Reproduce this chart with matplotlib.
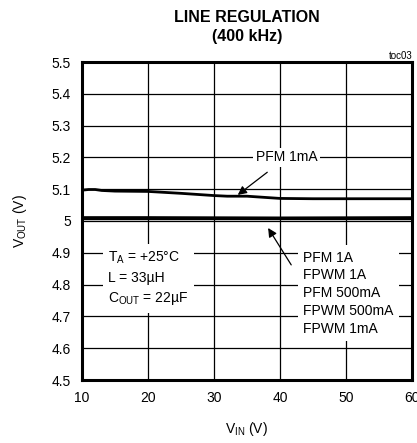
import numpy as np
import matplotlib
matplotlib.use("Agg")
import matplotlib.pyplot as plt

plt.rcParams['font.family'] = ['Liberation Sans', 'DejaVu Sans']
plt.rcParams['mathtext.fontset'] = 'custom'
plt.rcParams['mathtext.rm'] = 'Liberation Sans'

# data
vin = [10, 11, 12, 13, 15, 20, 25, 30, 32, 35, 40, 45, 50, 55, 60]
pfm_1ma = [5.097, 5.099, 5.099, 5.096, 5.094, 5.093, 5.087, 5.080, 5.078, 5.078,
           5.071, 5.070, 5.070, 5.070, 5.070]
vin_flat = [10, 20, 30, 40, 50, 60]
pfm_1a = [5.007, 5.007, 5.007, 5.007, 5.007, 5.007]
fpwm_1a = [5.008, 5.008, 5.008, 5.008, 5.008, 5.008]
pfm_500ma = [5.009, 5.009, 5.008, 5.008, 5.008, 5.009]
fpwm_500ma = [5.010, 5.010, 5.010, 5.009, 5.010, 5.010]
fpwm_1ma = [5.011, 5.011, 5.010, 5.010, 5.010, 5.011]

xticks = [10, 20, 30, 40, 50, 60]
yticks = [4.5, 4.6, 4.7, 4.8, 4.9, 5.0, 5.1, 5.2, 5.3, 5.4, 5.5]
ytick_labels = ['4.5', '4.6', '4.7', '4.8', '4.9', '5', '5.1', '5.2', '5.3', '5.4', '5.5']

fig = plt.figure(figsize=(4.17, 4.43), dpi=100)
ax = fig.add_axes([82 / 417, 63 / 443, 330 / 417, 318 / 443])

ax.plot(vin, pfm_1ma, color='black', lw=2.0, zorder=4)
for ys in [pfm_1a, fpwm_1a, pfm_500ma, fpwm_500ma, fpwm_1ma]:
    ax.plot(vin_flat, ys, color='black', lw=1.7, zorder=4)

ax.set_xlim(10, 60)
ax.set_ylim(4.5, 5.5)
ax.set_xticks(xticks)
ax.set_yticks(yticks)
ax.set_yticklabels(ytick_labels)
ax.tick_params(length=0, labelsize=10, pad=8)
ax.grid(True, color='black', lw=0.9)
ax.set_axisbelow(True)
for s in ax.spines.values():
    s.set_linewidth(2.2)

ax.set_xlabel(r'$\mathregular{V_{IN}}$ (V)', fontsize=10, labelpad=11)
ax.set_ylabel(r'$\mathregular{V_{OUT}}$ (V)', fontsize=10, labelpad=16)

fig.text(247 / 417, 1 - 27 / 443, 'LINE REGULATION\n(400 kHz)', ha='center',
         va='center', fontsize=11.5, fontweight='bold', linespacing=1.35)
fig.text(413 / 417, 1 - 56 / 443, 'toc03', ha='right', va='center', fontsize=7)

box = dict(facecolor='white', edgecolor='none', pad=2)

ax.annotate('PFM 1mA', xy=(33.6, 5.082), xytext=(41.0, 5.2),
            ha='center', va='center', fontsize=10, bbox=box,
            arrowprops=dict(arrowstyle='-|>', color='black', lw=0.9,
                            mutation_scale=13, shrinkA=6, shrinkB=0), zorder=5)
ax.annotate('', xy=(38.2, 4.978), xytext=(41.7, 4.862),
            arrowprops=dict(arrowstyle='-|>', color='black', lw=0.9,
                            mutation_scale=13, shrinkA=0, shrinkB=0), zorder=5)

ax.text(43.5, 4.907, 'PFM 1A\nFPWM 1A\nPFM 500mA\nFPWM 500mA\nFPWM 1mA',
        ha='left', va='top', fontsize=10, linespacing=1.34,
        bbox=dict(facecolor='white', edgecolor='none', pad=4), zorder=5)
ax.text(14.0, 4.82, '$\\mathregular{T_A}$ = +25°C\nL = 33µH\n$\\mathregular{C_{OUT}}$ = 22µF',
        ha='left', va='center', fontsize=10, linespacing=1.45,
        bbox=dict(facecolor='white', edgecolor='none', pad=4), zorder=5)

fig.savefig('out.png', dpi=100)
